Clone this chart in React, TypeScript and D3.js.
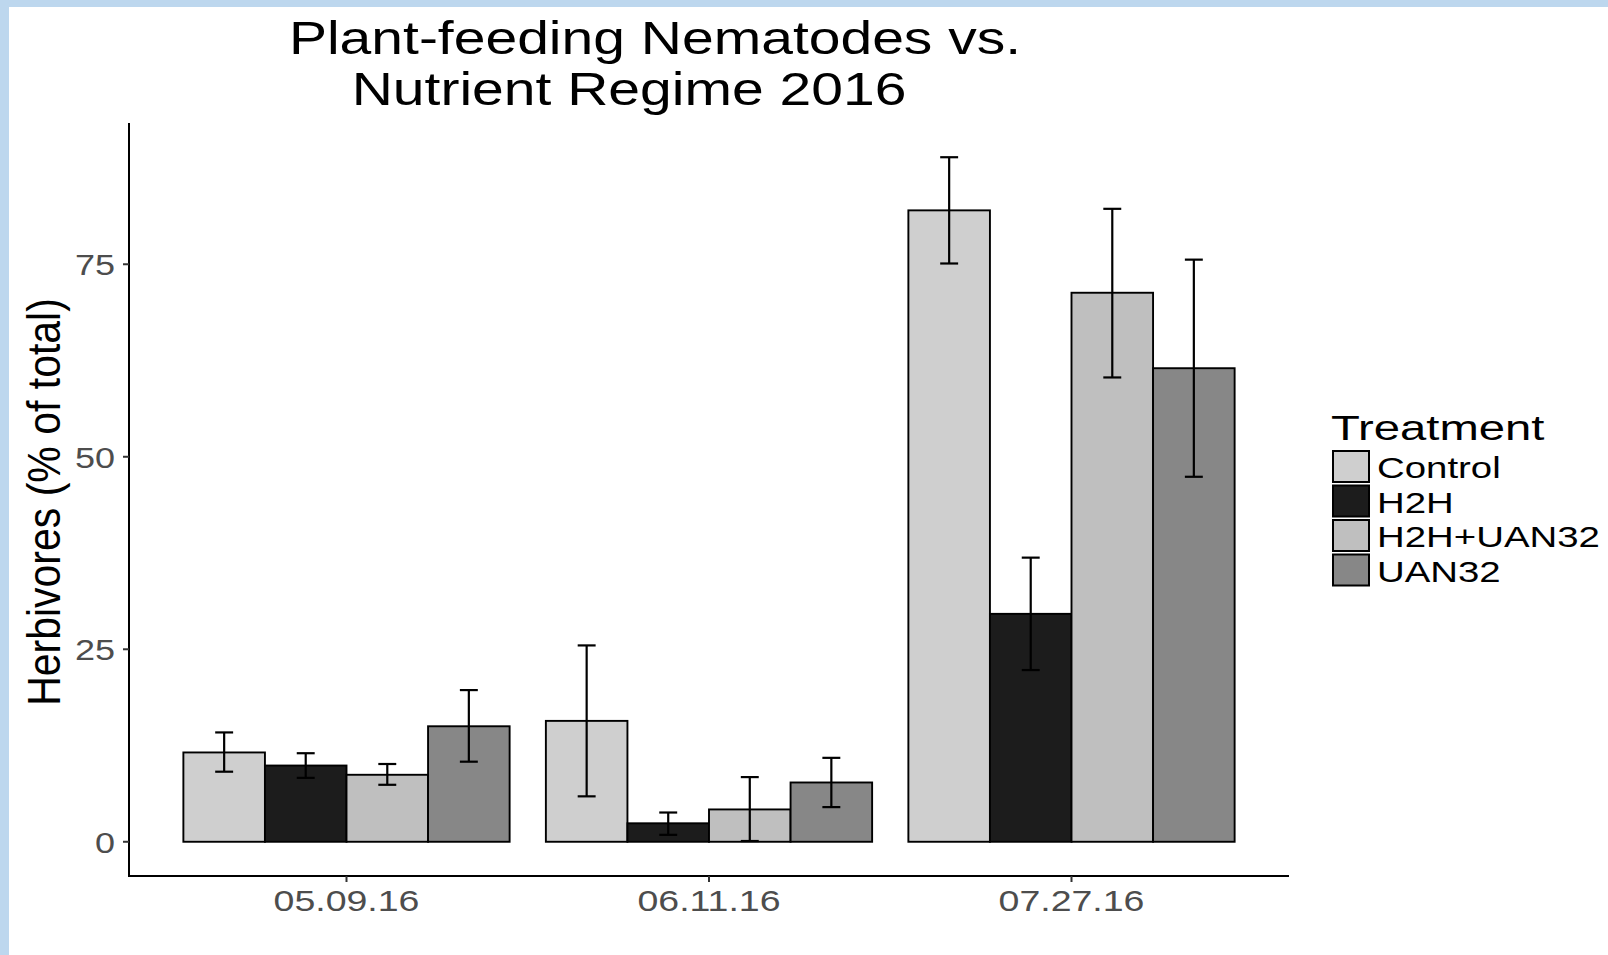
import React from 'react';
import * as d3 from 'd3';

// data
const dates = ['05.09.16', '06.11.16', '07.27.16'];
const treatments = ['Control', 'H2H', 'H2H+UAN32', 'UAN32'];
const fills = ['#cfcfcf', '#1c1c1c', '#bfbfbf', '#878787'];

const controlMean = [11.6, 15.7, 82.0];
const h2hMean = [9.9, 2.4, 29.6];
const h2hUanMean = [8.7, 4.2, 71.3];
const uanMean = [15.0, 7.7, 61.5];

const controlLow = [9.1, 5.9, 75.1];
const h2hLow = [8.3, 0.9, 22.3];
const h2hUanLow = [7.4, 0.1, 60.3];
const uanLow = [10.4, 4.5, 47.4];

const controlHigh = [14.2, 25.5, 88.9];
const h2hHigh = [11.5, 3.8, 36.9];
const h2hUanHigh = [10.1, 8.4, 82.2];
const uanHigh = [19.7, 10.9, 75.6];

const yTicks = [0, 25, 50, 75];

const means = [controlMean, h2hMean, h2hUanMean, uanMean];
const lows = [controlLow, h2hLow, h2hUanLow, uanLow];
const highs = [controlHigh, h2hHigh, h2hUanHigh, uanHigh];

const W = 1608, H = 955;
const panel = { left: 129, right: 1289, top: 123, bottom: 876 };
const FONT = '"Liberation Sans", Arial, Helvetica, sans-serif';
const SX = 1.24; // the picture is stretched sideways

const Txt = ({ x, y, size, anchor = 'start', fill = '#000', sx = SX, rotate = 0, children }: any) => (
  <text
    transform={`translate(${x},${y}) scale(${sx},1)` + (rotate ? ` rotate(${rotate})` : '')}
    fontFamily={FONT}
    fontSize={size}
    textAnchor={anchor}
    fill={fill}
  >
    {children}
  </text>
);

export default function App() {
  const yMax = d3.max(highs.flat()) as number;
  const y = d3.scaleLinear()
    .domain([-0.05 * yMax, 1.05 * yMax])
    .range([panel.bottom, panel.top]);

  const x = d3.scaleBand()
    .domain(dates)
    .range([panel.left, panel.right])
    .paddingInner(0.1)
    .paddingOuter(0.15);

  const xs = d3.scaleBand()
    .domain(treatments)
    .range([0, x.bandwidth()]);

  const capW = xs.bandwidth() * 0.22;

  const rows: any[] = [];
  treatments.forEach((t, ti) => {
    dates.forEach((d, di) => {
      rows.push({ t, ti, d, mean: means[ti][di], lo: lows[ti][di], hi: highs[ti][di] });
    });
  });

  const keyX = 1333, keyY = 451, keyStep = 34.5;

  return (
    <svg width={W} height={H} style={{ position: 'absolute', left: 0, top: 0, background: '#fff' }}>
      <rect x={0} y={0} width={W} height={7} fill="#bdd7ee" />
      <rect x={0} y={0} width={9} height={H} fill="#bdd7ee" />

      {/* title */}
      <Txt x={655} y={54} size={46} anchor="middle">Plant-feeding Nematodes vs.</Txt>
      <Txt x={629} y={105} size={46} anchor="middle">Nutrient Regime 2016</Txt>

      {/* bars */}
      {rows.map((r, i) => (
        <rect
          key={'b' + i}
          x={(x(r.d) as number) + (xs(r.t) as number)}
          y={y(r.mean)}
          width={xs.bandwidth()}
          height={y(0) - y(r.mean)}
          fill={fills[r.ti]}
          stroke="#000"
          strokeWidth={1.9}
        />
      ))}

      {/* error bars */}
      {rows.map((r, i) => {
        const cx = (x(r.d) as number) + (xs(r.t) as number) + xs.bandwidth() / 2;
        return (
          <g key={'e' + i} stroke="#000" strokeWidth={2.2}>
            <line x1={cx} x2={cx} y1={y(r.lo)} y2={y(r.hi)} />
            <line x1={cx - capW / 2} x2={cx + capW / 2} y1={y(r.lo)} y2={y(r.lo)} />
            <line x1={cx - capW / 2} x2={cx + capW / 2} y1={y(r.hi)} y2={y(r.hi)} />
          </g>
        );
      })}

      {/* axes */}
      <line x1={panel.left} x2={panel.left} y1={panel.top} y2={panel.bottom + 1} stroke="#000" strokeWidth={2} />
      <line x1={panel.left - 1} x2={panel.right} y1={panel.bottom} y2={panel.bottom} stroke="#000" strokeWidth={2} />
      {yTicks.map(t => (
        <g key={'yt' + t}>
          <line x1={panel.left - 6} x2={panel.left} y1={y(t)} y2={y(t)} stroke="#333" strokeWidth={2} />
          <Txt x={115} y={y(t) + 11} size={30} sx={1.2} anchor="end" fill="#4d4d4d">{t}</Txt>
        </g>
      ))}
      {dates.map(d => {
        const cx = (x(d) as number) + x.bandwidth() / 2;
        return (
          <g key={'xt' + d}>
            <line x1={cx} x2={cx} y1={panel.bottom} y2={panel.bottom + 6} stroke="#333" strokeWidth={2} />
            <Txt x={cx} y={911} size={30} sx={1.25} anchor="middle" fill="#4d4d4d">{d}</Txt>
          </g>
        );
      })}

      <Txt x={60} y={502} size={41} anchor="middle" sx={1.12} rotate={-90}>Herbivores (% of total)</Txt>

      {/* legend */}
      <Txt x={1331} y={440} size={35} sx={1.35}>Treatment</Txt>
      {treatments.map((t, i) => (
        <g key={'lg' + t}>
          <rect x={keyX} y={keyY + i * keyStep} width={36} height={31} fill={fills[i]} stroke="#000" strokeWidth={2} />
          <Txt x={1377} y={keyY + i * keyStep + 27} size={30} sx={1.28}>{t}</Txt>
        </g>
      ))}
    </svg>
  );
}
